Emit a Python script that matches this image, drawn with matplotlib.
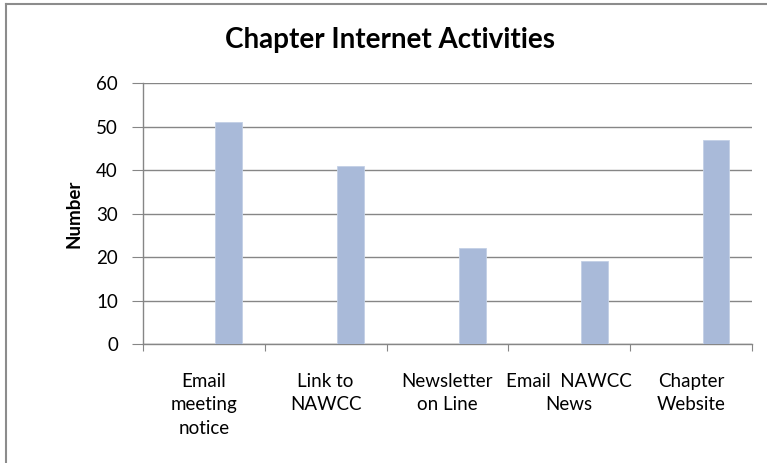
import matplotlib
matplotlib.use("Agg")
import matplotlib.pyplot as plt
from matplotlib.lines import Line2D

categories = ["Email\nmeeting\nnotice", "Link to\nNAWCC", "Newsletter\non Line",
              "Email  NAWCC\nNews", "Chapter\nWebsite"]
values = [51, 41, 22, 19, 47]
y_ticks = [0, 10, 20, 30, 40, 50, 60]

plt.rcParams["font.family"] = ["Lato", "DejaVu Sans"]

fig = plt.figure(figsize=(7.67, 4.63), dpi=100)
ax = fig.add_axes([0.1864, 0.257, 0.794, 0.5637])

n = len(categories)
pos = [i + 0.705 for i in range(n)]
ax.bar(pos, values, width=0.22, color="#A9BAD9", edgecolor="#C3D0E6", linewidth=0.6, zorder=3)

ax.set_xlim(0, n)
ax.set_ylim(0, 60)
ax.set_yticks(y_ticks)
ax.set_xticks(range(n + 1))
ax.set_xticklabels([])
ax.set_xticks([i + 0.5 for i in range(n)], minor=True)
ax.set_xticklabels(categories, minor=True, fontsize=13.5, linespacing=1.45)
ax.tick_params(axis="x", which="major", length=5, color="#868686", direction="out")
ax.tick_params(axis="x", which="minor", length=0, pad=21)
ax.tick_params(axis="y", length=8, color="#868686", labelsize=13.5, pad=10)

ax.grid(axis="y", color="#868686", linewidth=1.0, zorder=0)
for s in ["top", "right"]:
    ax.spines[s].set_visible(False)
ax.spines["left"].set_color("#868686")
ax.spines["bottom"].set_color("#868686")
ax.spines["left"].set_linewidth(1.0)
ax.spines["bottom"].set_linewidth(1.0)

ax.set_ylabel("Number", fontsize=13.5, fontweight="bold")
ax.yaxis.set_label_coords(-0.100, 0.5)
fig.text(0.508, 0.914, "Chapter Internet Activities", ha="center", va="center",
         fontsize=20, fontweight="bold")

# outer chart frame (only left and top edges visible)
fig.add_artist(Line2D([6 / 767, 6 / 767], [0, 1 - 4 / 463], transform=fig.transFigure,
                      color="#8C8C8C", linewidth=1.5))
fig.add_artist(Line2D([6 / 767, 1], [1 - 4 / 463, 1 - 4 / 463], transform=fig.transFigure,
                      color="#8C8C8C", linewidth=1.5))

fig.savefig("out.png", dpi=100)
